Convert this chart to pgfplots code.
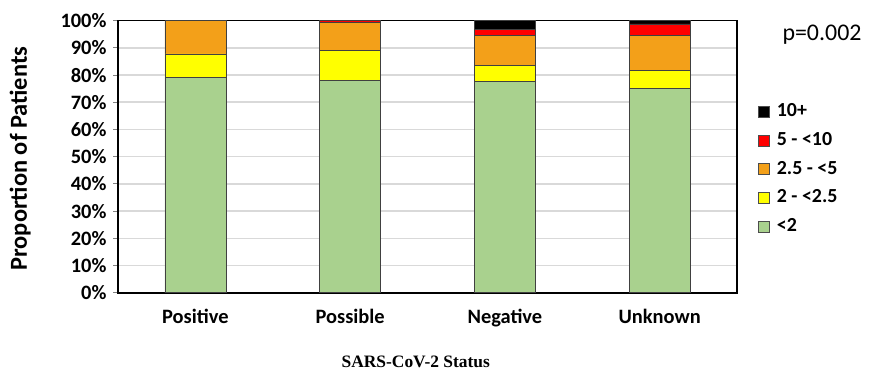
\documentclass[border=0pt]{standalone}
\usepackage{pgfplots}
\pgfplotsset{compat=1.18}
\usepackage{fontspec}
\setmainfont{Carlito}
\newfontfamily\serifb{Liberation Serif}
\definecolor{cgreen}{RGB}{169,209,142}
\definecolor{cyellow}{RGB}{255,255,0}
\definecolor{corange}{RGB}{243,160,25}
\definecolor{cred}{RGB}{255,0,0}
\definecolor{cblack}{RGB}{0,0,0}
\definecolor{cgrid}{RGB}{217,217,217}
\begin{document}
\begin{tikzpicture}[x=1bp,y=1bp]
\path[use as bounding box] (0,0) rectangle (869,370);
\begin{axis}[
  at={(118bp,77.3bp)}, anchor=south west,
  scale only axis, width=619bp, height=272bp,
  ybar stacked, bar width=0.395,
  xmin=-0.5, xmax=3.5, ymin=0, ymax=100,
  xtick={0,1,2,3}, xticklabels={Positive,Possible,Negative,Unknown},
  ytick={0,10,...,100},
  yticklabels={0\%,10\%,20\%,30\%,40\%,50\%,60\%,70\%,80\%,90\%,100\%},
  ytick pos=left,
  ymajorgrids, grid style={cgrid, line width=1.6bp},
  axis line style={black, line width=1.6bp},
  tick align=outside,
  major tick length=5bp,
  ytick style={gray, line width=0.8bp},
  xtick style={draw=none},
  tick label style={font=\fontsize{20.5}{24}\selectfont\bfseries},
  xticklabel style={yshift=-8bp},
  yticklabel style={xshift=-3bp},
  ylabel={Proportion of Patients},
  ylabel style={at={(rel axis cs:-0.158,0.493)}, anchor=center, font=\fontsize{24.5}{28}\selectfont\bfseries},
  xlabel={SARS-CoV-2 Status},
  xlabel style={at={(rel axis cs:0.481,-0.255)}, anchor=center, font=\fontsize{17.5}{20}\serifb\bfseries},
  legend cell align=left,
  legend style={at={(rel axis cs:1.034,0.699)}, anchor=north west, draw=none, fill=none, inner sep=0pt,
    font=\fontsize{20}{24}\selectfont\bfseries, row sep=10.7bp,
    nodes={inner sep=0pt, text height=14bp, text depth=4bp},
    /tikz/every odd column/.append style={column sep=7bp}},
  reverse legend,
  legend image code/.code={\draw[#1, draw=gray!60!black, line width=0.6bp] (0bp,-5.5bp) rectangle (11bp,5.5bp);},
  every axis plot/.append style={draw=gray!50!black, line width=0.6bp},
]
\addplot[fill=cgreen] coordinates {(0,79.2) (1,78.0) (2,77.8) (3,75.1)};
\addplot[fill=cyellow] coordinates {(0,8.6) (1,11.0) (2,5.9) (3,6.5)};
\addplot[fill=corange] coordinates {(0,12.2) (1,10.3) (2,10.9) (3,12.9)};
\addplot[fill=cred] coordinates {(0,0) (1,0.7) (2,2.2) (3,4.3)};
\addplot[fill=cblack] coordinates {(0,0) (1,0) (2,3.2) (3,1.2)};
\legend{<2, 2 - <2.5, 2.5 - <5, 5 - <10, 10+}
\end{axis}
\node[font=\fontsize{24}{28}\selectfont] at (822,335) {p=0.002};
\end{tikzpicture}
\end{document}
